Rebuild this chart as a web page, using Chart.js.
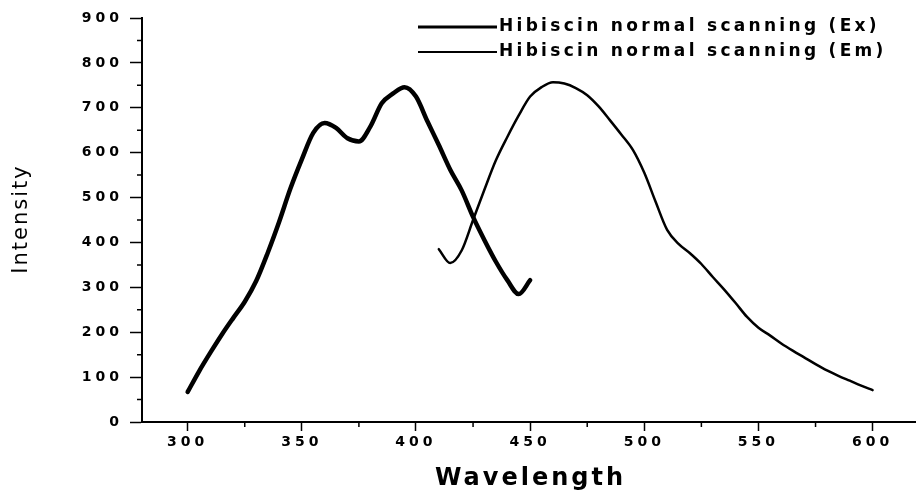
<!DOCTYPE html>
<html>
<head>
<meta charset="utf-8">
<script src="https://cdn.jsdelivr.net/npm/chart.js@4"></script>
<style>
  html, body { margin: 0; padding: 0; background: #fff; }
  canvas { display: block; }
</style>
</head>
<body>
<canvas id="spectrum" width="916" height="492"></canvas>
<script>
const exWavelength = [300, 305, 310, 315, 320, 325, 330, 335, 340, 345, 350, 355, 360, 365, 370, 375,
  380, 385, 390, 395, 400, 405, 410, 415, 420, 425, 430, 435, 440, 445, 450];
const exIntensity = [67, 113, 155, 195, 232, 268, 314, 376, 445, 520, 585, 644, 666, 655, 632, 625,
  658, 710, 732, 746, 725, 670, 617, 562, 516, 457, 405, 357, 316, 285, 316];

// emission scan (Em)
const emWavelength = [410, 415, 420, 425, 430, 435, 440, 445, 450, 455, 460, 465, 470, 475, 480, 485,
  490, 495, 500, 505, 510, 515, 520, 525, 530, 535, 540, 545, 550, 555, 560, 565, 570, 575, 580, 585,
  590, 595, 600];
const emIntensity = [385, 354, 382, 450, 518, 583, 635, 683, 725, 746, 757, 754, 744, 728, 703, 672,
  640, 606, 555, 490, 428, 397, 376, 352, 323, 295, 265, 234, 210, 193, 175, 159, 144, 129, 115, 103,
  92, 81, 71];

const seriesLabels = ["Hibiscin normal scanning (Ex)", "Hibiscin normal scanning (Em)"];
const xTicks = [300, 350, 400, 450, 500, 550, 600];
const xMinorTicks = [325, 375, 425, 475, 525, 575];
const yTicks = [0, 100, 200, 300, 400, 500, 600, 700, 800, 900];
const yMinorTicks = [50, 150, 250, 350, 450, 550, 650, 750, 850];
const xTitle = "Wavelength";
const yTitle = "Intensity";

const FONT = "'DejaVu Sans', sans-serif";

// minor ticks, axis titles and the in-plot legend
const extras = {
  id: "extras",
  beforeDraw(chart) {
    chart.ctx.letterSpacing = "4px"; // wide tick numbers like the scan
  },
  afterDraw(chart) {
    const { ctx, scales: { x, y } } = chart;
    ctx.save();
    ctx.strokeStyle = "#000";
    ctx.lineWidth = 1.5;
    ctx.beginPath();
    xMinorTicks.forEach(v => {
      const px = x.getPixelForValue(v);
      ctx.moveTo(px, x.top);
      ctx.lineTo(px, x.top + 5);
    });
    yMinorTicks.forEach(v => {
      const py = y.getPixelForValue(v);
      ctx.moveTo(y.right, py);
      ctx.lineTo(y.right - 5, py);
    });
    ctx.stroke();

    ctx.fillStyle = "#000";
    ctx.font = "bold 24px " + FONT;
    ctx.letterSpacing = "3px";
    ctx.textAlign = "center";
    ctx.textBaseline = "alphabetic";
    ctx.fillText(xTitle, (x.left + x.right) / 2 + 1.5, 485);

    ctx.save();
    ctx.font = "21px " + FONT;
    ctx.letterSpacing = "2px";
    ctx.translate(22, (y.top + y.bottom) / 2);
    ctx.rotate(-Math.PI / 2);
    ctx.textBaseline = "middle";
    ctx.fillText(yTitle, 1, 0);
    ctx.restore();

    // legend
    ctx.font = "bold 17px " + FONT;
    ctx.letterSpacing = "3.3px";
    ctx.textAlign = "left";
    ctx.textBaseline = "middle";
    chart.data.datasets.forEach((ds, i) => {
      const ly = 27 + i * 25;
      ctx.lineWidth = i === 0 ? 3 : 2;
      ctx.beginPath();
      ctx.moveTo(418, ly);
      ctx.lineTo(497, ly);
      ctx.stroke();
      ctx.fillText(ds.label, 499, ly);
    });
    ctx.restore();
  }
};

const tickFont = { family: FONT, size: 14, weight: "bold" };

new Chart(document.getElementById("spectrum"), {
  type: "line",
  data: {
    datasets: [
      {
        label: seriesLabels[0],
        data: exWavelength.map((x, i) => ({ x, y: exIntensity[i] })),
        borderColor: "#000",
        borderWidth: 4.5,
        pointRadius: 0,
        cubicInterpolationMode: "monotone",
        borderCapStyle: "round",
        borderJoinStyle: "round"
      },
      {
        label: seriesLabels[1],
        data: emWavelength.map((x, i) => ({ x, y: emIntensity[i] })),
        borderColor: "#000",
        borderWidth: 2.5,
        pointRadius: 0,
        cubicInterpolationMode: "monotone",
        borderCapStyle: "round",
        borderJoinStyle: "round"
      }
    ]
  },
  options: {
    responsive: false,
    animation: false,
    layout: { padding: { top: 18, left: 0, right: 0, bottom: 0 } },
    plugins: {
      legend: { display: false },
      tooltip: { enabled: false }
    },
    scales: {
      x: {
        type: "linear",
        min: 280,
        max: 619,
        border: { color: "#000", width: 2 },
        grid: { drawOnChartArea: false, color: "#000", tickLength: 9, tickWidth: 1.5 },
        ticks: { color: "#000", font: tickFont, padding: 3, maxRotation: 0, autoSkip: false },
        afterBuildTicks: s => { s.ticks = xTicks.map(value => ({ value })); },
        afterFit: s => { s.height = 70; s.paddingLeft = 0; s.paddingRight = 0; }
      },
      y: {
        min: 0,
        max: 900,
        border: { color: "#000", width: 2 },
        grid: { drawOnChartArea: false, color: "#000", tickLength: 12, tickWidth: 1.5 },
        ticks: { color: "#000", font: tickFont, padding: 7, autoSkip: false },
        afterBuildTicks: s => { s.ticks = yTicks.map(value => ({ value })); },
        afterFit: s => { s.width = 142; s.paddingTop = 0; s.paddingBottom = 0; }
      }
    }
  },
  plugins: [extras]
});
</script>
</body>
</html>
